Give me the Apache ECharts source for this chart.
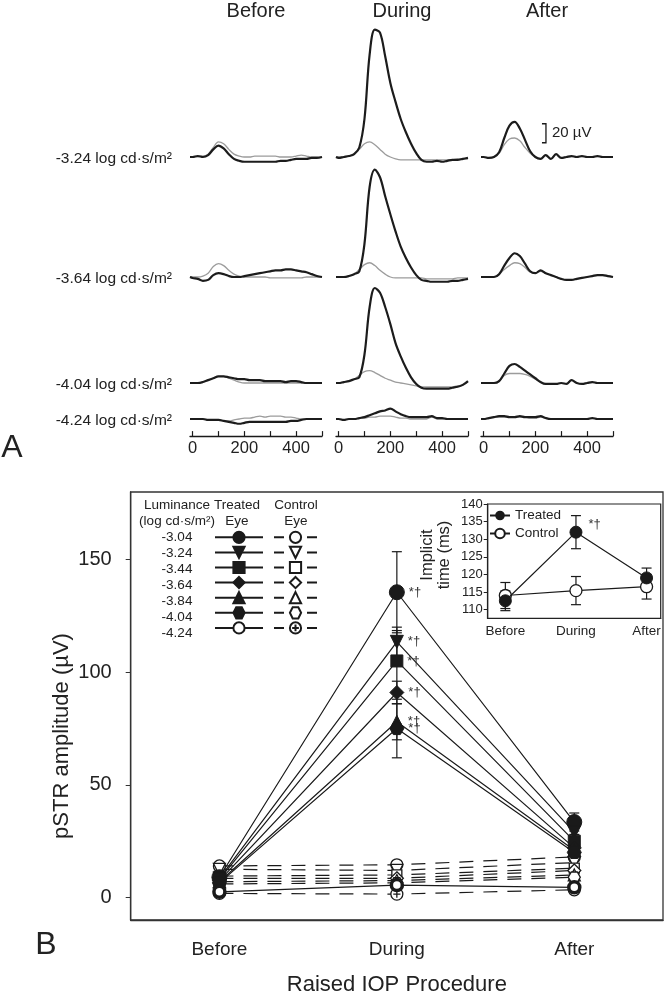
<!DOCTYPE html>
<html><head><meta charset="utf-8">
<script src="https://cdn.jsdelivr.net/npm/echarts@6/dist/echarts.min.js"></script>
<style>html,body{margin:0;padding:0;background:#fff}#c{width:664px;height:997px}</style>
</head><body><div id="c"></div>
<script>
// ---------------- DATA ----------------
// Panel A: waveform samples (ms) and amplitudes (µV); black = treated eye, gray = control eye
const waveTimes = [-10,0,20,40,60,80,100,120,140,160,180,200,220,240,260,280,300,320,340,360,380,400,420,440,460,480,500];
const waveTickValues = [0,100,200,300,400,500];
const waveTickLabels = [0,200,400];
const phaseTitles = ['Before','During','After'];
const rowLabels = ['-3.24 log cd·s/m²','-3.64 log cd·s/m²','-4.04 log cd·s/m²','-4.24 log cd·s/m²'];

const w324BeforeBlack = [0,0,1,0,2,8,12,9,3,-2,-4,-5,-5,-5,-5,-5,-5,-5,-4,-4,-3,-2,-2,-2,-1,-1,0];
const w324BeforeGray  = [0,0,1,1,3,10,16,14,8,3,1,0,0,1,1,1,1,1,0,0,0,1,2,1,0,0,0];
const w324DuringBlack = [0,-1,0,1,3,10,40,108,134,131,106,78,58,40,26,14,4,-3,-5,-5,-4,-5,-4,-3,-3,-2,-1];
const w324DuringGray  = [0,0,0,1,3,8,14,16,13,8,3,0,-2,-3,-3,-3,-3,-3,-3,-3,-3,-3,-3,-3,-2,-2,-2];
const w324AfterBlack  = [0,0,-1,0,5,20,33,37,30,18,6,0,-2,2,-2,3,-1,0,1,0,1,0,0,1,0,0,0];
const w324AfterGray   = [0,0,-1,0,4,13,19,20,17,10,4,0,-2,2,-2,3,-1,0,1,0,1,0,0,1,0,0,0];

const w364BeforeBlack = [0,-1,-2,-4,-3,2,4,3,1,0,0,1,2,3,4,5,6,7,7,8,8,7,6,5,3,1,0];
const w364BeforeGray  = [0,0,0,1,4,11,14,12,7,3,1,0,0,0,0,0,-1,-1,-1,-1,-1,-1,-1,0,0,0,0];
const w364DuringBlack = [0,0,0,1,3,6,35,95,113,105,85,66,48,32,20,10,2,-3,-4,-5,-5,-5,-5,-4,-4,-3,-2];
const w364DuringGray  = [0,0,0,1,3,8,13,15,12,7,3,0,-1,-1,-1,-1,-1,-1,-2,-2,-2,-2,-2,-2,-1,-1,-1];
const w364AfterBlack  = [0,0,0,0,3,12,20,25,22,14,6,4,7,4,2,0,-2,-3,-3,-2,-1,0,1,2,2,1,0];
const w364AfterGray   = [0,0,0,0,3,8,12,15,14,10,5,4,6,4,2,0,-2,-3,-3,-2,-1,0,1,2,2,1,0];

const w404BeforeBlack = [0,0,0,1,3,5,7,7,6,5,4,4,3,3,3,2,2,2,2,1,2,2,1,0,0,0,0];
const w404BeforeGray  = [0,0,0,1,3,5,7,7,5,3,1,0,0,0,0,0,0,0,0,0,0,0,0,0,0,0,0];
const w404DuringBlack = [0,0,1,2,4,6,30,80,100,95,80,62,42,28,16,6,-1,-5,-6,-6,-6,-6,-6,-5,-4,-2,2];
const w404DuringGray  = [0,0,1,2,4,8,12,13,11,8,5,3,1,0,-1,-2,-3,-4,-4,-4,-4,-4,-4,-4,-3,-2,1];
const w404AfterBlack  = [0,0,0,0,2,10,18,20,17,13,9,5,1,-1,-1,-1,0,-1,3,0,-1,0,1,0,0,0,0];
const w404AfterGray   = [0,0,0,0,2,8,10,10,10,9,7,4,1,-1,-1,-1,0,-1,3,0,-1,0,1,0,0,0,0];

const w424BeforeBlack = [0,0,0,0,-1,-1,-1,-2,-3,-4,-5,-4,-3,-3,-3,-3,-3,-3,-3,-3,-2,-2,-1,0,0,0,0];
const w424BeforeGray  = [0,0,0,0,-1,-1,-1,-2,-2,-1,0,1,1,2,3,2,3,3,3,2,2,1,0,0,0,0,0];
const w424DuringBlack = [0,0,-1,0,0,1,2,4,6,8,9,11,8,5,3,2,2,2,2,3,1,1,0,0,0,0,0];
const w424DuringGray  = [0,0,-1,0,0,1,1,2,2,3,3,3,2,1,1,0,0,0,0,2,0,0,0,0,0,0,0];
const w424AfterBlack  = [0,0,1,2,3,3,2,2,3,2,2,2,3,1,0,0,0,0,0,0,0,0,1,0,0,0,0];
const w424AfterGray   = [0,0,1,2,2,2,2,2,2,2,1,1,2,1,0,0,0,0,0,0,0,0,1,0,0,0,0];

// scale bar: time (ms), from/to (µV)
const scaleBar = [241, 15, 35];

// Panel B
const phases = ['Before','During','After'];
const luminances = ['-3.04','-3.24','-3.44','-3.64','-3.84','-4.04','-4.24'];
const ampTicks = [0,50,100,150];
const tr304 = [9, 135.5, 33.5];  const trErr304 = [2, 18, 4];
const tr324 = [8.5, 113.5, 29];  const trErr324 = [2, 6.5, 3];
const tr344 = [8, 105, 25];      const trErr344 = [2, 13.5, 3];
const tr364 = [7.5, 91, 22];     const trErr364 = [2, 5, 3];
const tr384 = [7, 78, 21];       const trErr384 = [2, 8, 3];
const tr404 = [6.5, 75, 20];     const trErr404 = [2, 13, 3];
const tr424 = [2.5, 5.5, 4.5];   const trErr424 = [1, 1.5, 1];
const ct304 = [14, 14.5, 18];    const ctErr304 = [1.5, 1.5, 2];
const ct324 = [12.5, 12, 15.5];  const ctErr324 = [1.5, 1.5, 2];
const ct344 = [9.5, 10, 13];     const ctErr344 = [1.5, 1.5, 2];
const ct364 = [8.5, 8.5, 12];    const ctErr364 = [1.5, 1.5, 2];
const ct384 = [7, 7.5, 10];      const ctErr384 = [1.5, 1.5, 2];
const ct404 = [6, 6.5, 9];       const ctErr404 = [1.5, 1.5, 2];
const ct424 = [1.8, 1.5, 3.4];   const ctErr424 = [1, 1, 1];

// Inset: implicit time (ms)
const insetPhases = ['Before','During','After'];
const implicitTicks = [110,115,120,125,130,135,140];
const implicitTreated = [112.5, 132, 119];   const implicitTreatedErr = [2.8, 4.7, 2.8];
const implicitControl = [114, 115.4, 116.5]; const implicitControlErr = [3.7, 4, 3.5];

// ---------------- LAYOUT / STYLE ----------------
const F = "'Liberation Sans', Arial, Helvetica, sans-serif";
const INK = '#1a1a1a';
const colLeft = [190, 336, 481], colWidth = 132;
const rowBase = [157, 277, 383, 419];
const pxPerUv = 0.95, yMaxUv = 140;

const waveRows = [
  [[w324BeforeBlack,w324BeforeGray],[w324DuringBlack,w324DuringGray],[w324AfterBlack,w324AfterGray]],
  [[w364BeforeBlack,w364BeforeGray],[w364DuringBlack,w364DuringGray],[w364AfterBlack,w364AfterGray]],
  [[w404BeforeBlack,w404BeforeGray],[w404DuringBlack,w404DuringGray],[w404AfterBlack,w404AfterGray]],
  [[w424BeforeBlack,w424BeforeGray],[w424DuringBlack,w424DuringGray],[w424AfterBlack,w424AfterGray]]
];

const grids = [], xAxes = [], yAxes = [], series = [];
for (let r = 0; r < 4; r++) {
  const yMin = r === 3 ? -18 : -12;
  for (let c = 0; c < 3; c++) {
    const gi = grids.length;
    grids.push({left: colLeft[c], width: colWidth, top: rowBase[r] - yMaxUv * pxPerUv, height: (yMaxUv - yMin) * pxPerUv});
    xAxes.push({gridIndex: gi, type: 'value', min: -10, max: 500, show: r === 3,
      axisLine: {onZero: false, lineStyle: {color: INK, width: 1.3}},
      axisTick: {show: true, inside: true, length: 5, customValues: waveTickValues, lineStyle: {color: INK, width: 1.2}},
      axisLabel: {customValues: waveTickLabels, fontSize: 16.5, color: '#222', fontFamily: F, margin: 4},
      splitLine: {show: false}});
    yAxes.push({gridIndex: gi, type: 'value', min: yMin, max: yMaxUv, show: false});
    const pair = waveRows[r][c];
    series.push({type: 'line', xAxisIndex: gi, yAxisIndex: gi, silent: true, showSymbol: false, smooth: 0.35,
      data: waveTimes.map((t, i) => [t, pair[1][i]]), lineStyle: {color: '#9c9c9c', width: 1.3}, z: 2});
    series.push({type: 'line', xAxisIndex: gi, yAxisIndex: gi, silent: true, showSymbol: false, smooth: 0.35,
      data: waveTimes.map((t, i) => [t, pair[0][i]]), lineStyle: {color: '#1c1c1c', width: 2.2}, z: 3});
  }
}
// scale bar in row 1, After panel
series.push({type: 'custom', xAxisIndex: 2, yAxisIndex: 2, silent: true, data: [scaleBar],
  renderItem: (p, api) => {
    const a = api.coord([api.value(0), api.value(2)]);
    const b = api.coord([api.value(0), api.value(1)]);
    return {type: 'group', children: [
      {type: 'polyline', shape: {points: [[a[0]-4, a[1]], [a[0], a[1]], [b[0], b[1]], [b[0]-4, b[1]]]}, style: {stroke: INK, lineWidth: 1.3, fill: null}},
      {type: 'text', x: a[0] + 6, y: (a[1] + b[1]) / 2, style: {text: '20 µV', fontSize: 15, fontFamily: F, fill: '#222', align: 'left', verticalAlign: 'middle'}}
    ]};
  }});

// ---- Main panel B ----
const MAIN = grids.length;
grids.push({left: 130.7, top: 492, width: 532.3, height: 428, show: true, borderColor: '#333', borderWidth: 1.3});
xAxes.push({gridIndex: MAIN, type: 'category', data: phases, boundaryGap: true,
  axisLine: {onZero: false, lineStyle: {color: '#333', width: 1.3}},
  axisTick: {alignWithLabel: true, length: 5, lineStyle: {color: '#333'}},
  axisLabel: {fontSize: 19, color: '#222', fontFamily: F, margin: 20},
  name: 'Raised IOP Procedure', nameLocation: 'middle', nameGap: 54,
  nameTextStyle: {fontSize: 22, color: '#222', fontFamily: F}});
yAxes.push({gridIndex: MAIN, type: 'value', min: -10, max: 180,
  axisLine: {show: true, lineStyle: {color: '#333', width: 1.3}},
  axisTick: {show: true, length: 5, customValues: ampTicks, lineStyle: {color: '#333'}},
  axisLabel: {customValues: ampTicks, fontSize: 20, color: '#222', fontFamily: F, margin: 19},
  splitLine: {show: false}});

const hexPath = 'path://M25,0 L75,0 L100,43.3 L75,86.6 L25,86.6 L0,43.3 Z';
const plusCircle = 'path://M10,0 A10,10 0 1 1 10,20 A10,10 0 1 1 10,0 Z M10,4 L10,16 M4,10 L16,10';
const treatedSets = [tr304, tr324, tr344, tr364, tr384, tr404, tr424];
const treatedErrs = [trErr304, trErr324, trErr344, trErr364, trErr384, trErr404, trErr424];
const controlSets = [ct304, ct324, ct344, ct364, ct384, ct404, ct424];
const controlErrs = [ctErr304, ctErr324, ctErr344, ctErr364, ctErr384, ctErr404, ctErr424];
const tSym = [
  {symbol: 'circle', size: 15, rot: 0},
  {symbol: 'triangle', size: 13, rot: 180},
  {symbol: 'rect', size: 12, rot: 0},
  {symbol: 'diamond', size: 14, rot: 0},
  {symbol: 'triangle', size: 13, rot: 0},
  {symbol: hexPath, size: 14, rot: 0},
  {symbol: 'circle', size: 11, rot: 0, ring: true}
];
const cSym = [
  {symbol: 'circle', size: 12, rot: 0},
  {symbol: 'triangle', size: 12, rot: 180},
  {symbol: 'rect', size: 10, rot: 0},
  {symbol: 'diamond', size: 13, rot: 0},
  {symbol: 'triangle', size: 12, rot: 0},
  {symbol: hexPath, size: 12, rot: 0},
  {symbol: plusCircle, size: 12, rot: 0}
];

function errItem(params, api) {
  const x = api.value(0), y = api.value(1), e = api.value(2);
  const hi = api.coord([x, y + e]), lo = api.coord([x, y - e]);
  const w = 5, st = {stroke: INK, lineWidth: 1.2};
  return {type: 'group', children: [
    {type: 'line', shape: {x1: hi[0], y1: hi[1], x2: lo[0], y2: lo[1]}, style: st},
    {type: 'line', shape: {x1: hi[0]-w, y1: hi[1], x2: hi[0]+w, y2: hi[1]}, style: st},
    {type: 'line', shape: {x1: lo[0]-w, y1: lo[1], x2: lo[0]+w, y2: lo[1]}, style: st}
  ]};
}
const errTreatedRows = [], errControlRows = [];
treatedSets.forEach((s, k) => s.forEach((v, j) => errTreatedRows.push([j, v, treatedErrs[k][j]])));
controlSets.forEach((s, k) => s.forEach((v, j) => errControlRows.push([j, v, controlErrs[k][j]])));
series.push({type: 'custom', xAxisIndex: MAIN, yAxisIndex: MAIN, silent: true, z: 1, data: errControlRows, renderItem: errItem});
series.push({type: 'custom', xAxisIndex: MAIN, yAxisIndex: MAIN, silent: true, z: 1, data: errTreatedRows, renderItem: errItem});

const controlNames = luminances.map(l => 'Control ' + l);
const treatedNames = luminances.map(l => 'Treated ' + l);
controlSets.forEach((s, k) => {
  series.push({type: 'line', name: controlNames[k], xAxisIndex: MAIN, yAxisIndex: MAIN, data: s,
    symbol: cSym[k].symbol, symbolSize: cSym[k].size, symbolRotate: cSym[k].rot, symbolKeepAspect: true,
    lineStyle: {color: INK, width: 1.2, type: [14, 10]},
    itemStyle: {color: '#fff', borderColor: INK, borderWidth: 1.3}, z: 3});
});
treatedSets.forEach((s, k) => {
  const ring = !!tSym[k].ring;
  series.push({type: 'line', name: treatedNames[k], xAxisIndex: MAIN, yAxisIndex: MAIN,
    data: s.map((v, j) => j === 1 && k < 6 ? {value: v, label: {show: true}} : v),
    symbol: tSym[k].symbol, symbolSize: tSym[k].size, symbolRotate: tSym[k].rot, symbolKeepAspect: true,
    lineStyle: {color: INK, width: 1.2},
    itemStyle: ring ? {color: '#fff', borderColor: INK, borderWidth: 3.5} : {color: INK, borderColor: INK, borderWidth: 1},
    label: {show: false, position: 'right', distance: 4, formatter: '*†', fontSize: 13, color: '#333', fontFamily: F},
    z: 4});
});

// ---- Inset ----
const INSET = grids.length;
grids.push({left: 487.7, top: 504, width: 173, height: 114.4, show: true, borderColor: '#222', borderWidth: 1.2});
xAxes.push({gridIndex: INSET, type: 'value', min: -0.25, max: 2.2,
  axisLine: {show: true, onZero: false, lineStyle: {color: '#222', width: 1.2}}, axisTick: {show: false},
  axisLabel: {customValues: [0, 1, 2], formatter: v => insetPhases[Math.round(v)], fontSize: 13.5, color: '#222', fontFamily: F, margin: 6},
  splitLine: {show: false}});
yAxes.push({gridIndex: INSET, type: 'value', min: 107.5, max: 140,
  axisLine: {show: true, onZero: false, lineStyle: {color: '#222', width: 1.2}},
  axisTick: {show: true, length: 4, customValues: implicitTicks, lineStyle: {color: '#222'}},
  axisLabel: {customValues: implicitTicks, fontSize: 13, color: '#222', fontFamily: F, margin: 5},
  splitLine: {show: false}});
const insetErrRows = [];
implicitTreated.forEach((v, j) => insetErrRows.push([j, v, implicitTreatedErr[j]]));
implicitControl.forEach((v, j) => insetErrRows.push([j, v, implicitControlErr[j]]));
series.push({type: 'custom', xAxisIndex: INSET, yAxisIndex: INSET, silent: true, z: 1, data: insetErrRows, renderItem: errItem});
series.push({type: 'line', name: 'Treated', xAxisIndex: INSET, yAxisIndex: INSET,
  data: implicitTreated.map((v, j) => [j, v]).map((p, j) => j === 1 ? {value: p, label: {show: true}} : p),
  symbol: 'circle', symbolSize: 12, lineStyle: {color: INK, width: 1.2},
  itemStyle: {color: INK, borderColor: INK},
  label: {show: false, position: 'right', offset: [1, -8], formatter: '*†', fontSize: 13, color: '#333', fontFamily: F}, z: 4});
series.push({type: 'line', name: 'Control', xAxisIndex: INSET, yAxisIndex: INSET,
  data: implicitControl.map((v, j) => [j, v]),
  symbol: 'circle', symbolSize: 12, lineStyle: {color: INK, width: 1.2},
  itemStyle: {color: '#fff', borderColor: INK, borderWidth: 1.3}, z: 3});

// ---- Legends ----
const legRow0 = 537.7, legStep = 15.9;
const legends = [
  {data: treatedNames, left: 214, top: legRow0 - 7, orient: 'vertical', itemWidth: 48, itemHeight: 14, itemGap: legStep - 14,
   formatter: () => '', textStyle: {fontSize: 8, lineHeight: 8}, selectedMode: false, padding: 0},
  {data: controlNames, left: 273, top: legRow0 - 7, orient: 'vertical', itemWidth: 43, itemHeight: 14, itemGap: legStep - 14,
   formatter: () => '', textStyle: {fontSize: 8, lineHeight: 8}, selectedMode: false, padding: 0,
   lineStyle: {type: [10, 23]}},
  {data: ['Treated', 'Control'], left: 489, top: 508, orient: 'vertical', itemWidth: 20, itemHeight: 12, itemGap: 3,
   textStyle: {fontSize: 13.5, color: '#222', fontFamily: F, lineHeight: 15}, selectedMode: false, padding: 0}
];

// ---- Text annotations ----
const T = (x, y, text, size, align, extra) => Object.assign({type: 'text', x, y, silent: true,
  style: {text, fontSize: size, fontFamily: F, fill: '#222', align: align || 'center', verticalAlign: 'middle'}}, extra || {});
const graphic = [];
phaseTitles.forEach((t, i) => graphic.push(T(colLeft[i] + 66, 11, t, 20)));
rowLabels.forEach((t, r) => graphic.push(T(172, rowBase[r] + 2, t, 15.5, 'right')));
graphic.push(T(12, 448, 'A', 32));
graphic.push(T(46, 945, 'B', 32));
graphic.push(T(62, 736, 'pSTR amplitude (µV)', 22, 'center', {rotation: Math.PI / 2}));
graphic.push(T(177, 505, 'Luminance', 13.5));
graphic.push(T(177, 521.5, '(log cd·s/m²)', 13.5));
graphic.push(T(237, 505, 'Treated', 13.5));
graphic.push(T(237, 521.5, 'Eye', 13.5));
graphic.push(T(296, 505, 'Control', 13.5));
graphic.push(T(296, 521.5, 'Eye', 13.5));
luminances.forEach((l, k) => graphic.push(T(177, legRow0 + k * legStep, l, 13.5)));
graphic.push(T(436, 555, 'Implicit\ntime (ms)', 16.5, 'center', {rotation: Math.PI / 2}));
graphic.forEach(g => { if (g.style.text.indexOf('\n') >= 0) g.style.lineHeight = 17; });

const chart = echarts.init(document.getElementById('c'), null, {renderer: 'canvas'});
chart.setOption({
  animation: false,
  backgroundColor: '#fff',
  textStyle: {fontFamily: F},
  grid: grids, xAxis: xAxes, yAxis: yAxes,
  legend: legends,
  series: series,
  graphic: graphic
});
</script></body></html>
